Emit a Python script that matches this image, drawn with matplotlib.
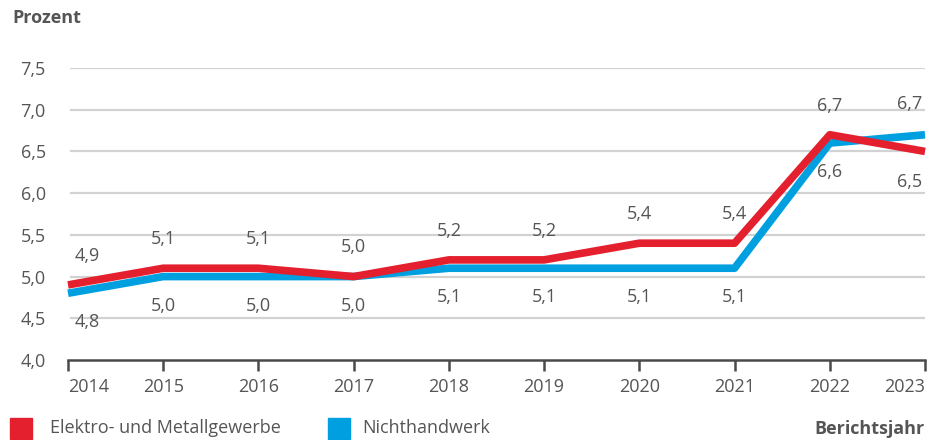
import matplotlib.pyplot as plt
from matplotlib.patches import Rectangle

plt.rcParams['font.family'] = ['Open Sans', 'DejaVu Sans']

years = [2014, 2015, 2016, 2017, 2018, 2019, 2020, 2021, 2022, 2023]
elektro = [4.9, 5.1, 5.1, 5.0, 5.2, 5.2, 5.4, 5.4, 6.7, 6.5]
nichthandwerk = [4.8, 5.0, 5.0, 5.0, 5.1, 5.1, 5.1, 5.1, 6.6, 6.7]
yticks = [4.0, 4.5, 5.0, 5.5, 6.0, 6.5, 7.0, 7.5]

red = '#e4202f'
blue = '#00a0e0'
grey = '#555555'
fs = 13

fig = plt.figure(figsize=(9.33, 4.4), dpi=100)
ax = fig.add_axes([68 / 933, 1 - 360 / 440, (925 - 68) / 933, (360 - 68) / 440])
ax.set_xlim(2014, 2023)
ax.set_ylim(4.0, 7.5)

for y in yticks[1:]:
    ax.axhline(y, xmin=0.003, color='#d2d2d2', lw=1.6, zorder=1)
ax.axhline(4.0, color='#4a4a4a', lw=1.8, zorder=2, clip_on=False)

ax.plot(years, nichthandwerk, color=blue, lw=5.5, solid_capstyle='butt', zorder=3, clip_on=False)
ax.plot(years, elektro, color=red, lw=5.5, solid_capstyle='butt', zorder=4, clip_on=False)

def fmt(v):
    return f'{v:.1f}'.replace('.', ',')

for i, yr in enumerate(years):
    r, b = elektro[i], nichthandwerk[i]
    dx = 0
    if i == 0:
        dx = 14
    elif yr == 2023:
        dx = -11
    if yr == 2023:
        r_off, b_off = -22, 22
    else:
        r_off, b_off = 21, -21
    ax.annotate(fmt(r), (yr, r), xytext=(dx, r_off), textcoords='offset points',
                ha='center', va='center', fontsize=fs, color=grey)
    ax.annotate(fmt(b), (yr, b), xytext=(dx, b_off), textcoords='offset points',
                ha='center', va='center', fontsize=fs, color=grey)

ax.set_xticks(years)
ax.set_xticklabels([str(y) for y in years])
labels = ax.get_xticklabels()
labels[0].set_ha('left')
labels[-1].set_ha('right')
ax.set_yticks(yticks)
ax.set_yticklabels([fmt(y) for y in yticks])
ax.tick_params(axis='x', length=8, width=1.8, color='#4a4a4a', pad=5, labelsize=fs, labelcolor=grey)
ax.tick_params(axis='y', length=0, pad=16, labelsize=fs, labelcolor=grey)
for s in ax.spines.values():
    s.set_visible(False)

fig.text(12 / 933, 1 - 18 / 440, 'Prozent', fontsize=fs, fontweight='bold', color=grey, va='center')
fig.text(925 / 933, 1 - 429 / 440, 'Berichtsjahr', fontsize=fs, fontweight='bold', color=grey,
         va='center', ha='right')

fig.patches.append(Rectangle((10 / 933, 1 - 439 / 440), 22 / 933, 21 / 440, transform=fig.transFigure,
                             color=red, figure=fig))
fig.text(50 / 933, 1 - 428 / 440, 'Elektro- und Metallgewerbe', fontsize=fs, color=grey, va='center')
fig.patches.append(Rectangle((328 / 933, 1 - 439 / 440), 22 / 933, 21 / 440, transform=fig.transFigure,
                             color=blue, figure=fig))
fig.text(362 / 933, 1 - 428 / 440, 'Nichthandwerk', fontsize=fs, color=grey, va='center')

fig.savefig('out.png', dpi=100)
